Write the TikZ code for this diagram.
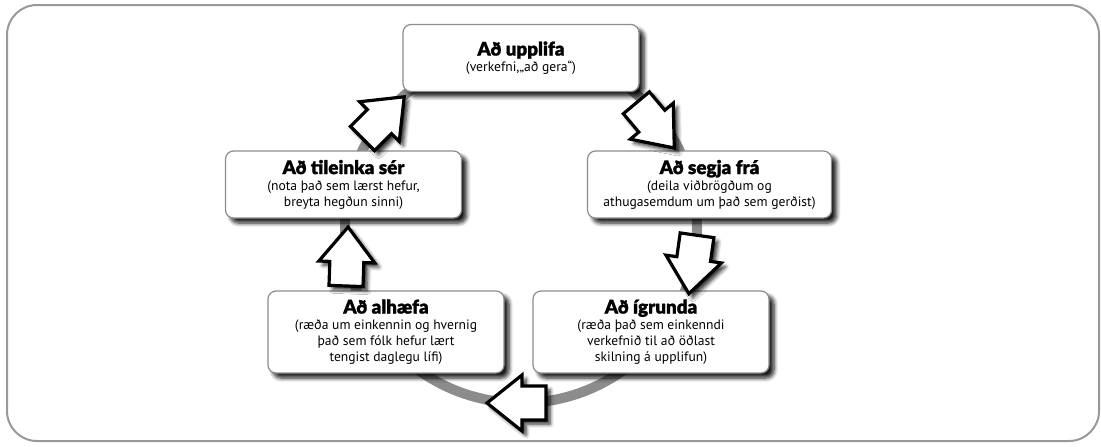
\documentclass[tikz,border=0pt]{standalone}
\usepackage{fontspec}
\setmainfont{PT Sans}
\newfontfamily\headfont{Lato}[UprightFont={* Black}, FakeBold=1.2]
\usetikzlibrary{shadows.blur}
\newcommand{\stagetitle}[1]{{\headfont\fontsize{9.4pt}{9.5pt}\selectfont #1}}
\tikzset{
  stage/.style={draw=black!45, line width=0.6pt, fill=white, rounded corners=4pt,
    align=center, minimum width=118pt, minimum height=33.5pt, inner sep=2pt,
    font=\fontsize{6.8pt}{8pt}\selectfont,
    blur shadow={shadow xshift=2.5pt, shadow yshift=-2.5pt, shadow blur steps=6, shadow opacity=90}},
  tall/.style={minimum height=41pt},
  ring/.style={draw=black!45, line width=5pt},
  frame/.style={draw=black!40, line width=1pt, rounded corners=15pt},
  pics/cyclearrow/.style={code={
    \draw[line width=1.6pt, fill=white, line join=miter,
      blur shadow={shadow xshift=2pt, shadow yshift=-2pt, shadow blur steps=5, shadow opacity=85}]
      (#1:30) -- ({#1+100.1}:28.44) -- ({#1+106.4}:17.72) -- ({#1+149.6}:33.62)
      -- ({#1-149.6}:33.62) -- ({#1-106.4}:17.72) -- ({#1-100.1}:28.44) -- cycle;
  }}
}
\begin{document}
\begin{tikzpicture}[x=0.5pt,y=0.5pt]
  \useasboundingbox (0,0) rectangle (1101,446);
  \draw[frame] (7,5) rectangle (1099,441);
  % hringurinn
  \coordinate (hub) at (521,219);
  \draw[ring] (hub) circle (176);
  % kassarnir
  \node[stage] (upplifa) at (521,388) {\stagetitle{Að upplifa}\\(verkefni,„að gera“)};
  \node[stage, minimum width=122pt] (segja) at (709.5,261.5) {\stagetitle{Að segja frá}\\(deila viðbrögðum og\\athugasemdum um það sem gerðist)};
  \node[stage, tall] (igrunda) at (651,114) {\stagetitle{Að ígrunda}\\(ræða það sem einkenndi\\verkefnið til að öðlast\\skilning á upplifun)};
  \node[stage, tall] (alhaefa) at (386,114) {\stagetitle{Að alhæfa}\\(ræða um einkennin og hvernig\\það sem fólk hefur lært\\tengist daglegu lífi)};
  \node[stage] (tileinka) at (343.5,261.5) {\stagetitle{Að tileinka sér}\\(nota það sem lærst hefur,\\breyta hegðun sinni)};
  % örvarnar
  \pic at (383,328) {cyclearrow=45};
  \pic at (655,321) {cyclearrow=-50};
  \pic at (693,182) {cyclearrow=-98};
  \pic at (517,43) {cyclearrow=180};
  \pic at (347,189) {cyclearrow=88};
\end{tikzpicture}
\end{document}
